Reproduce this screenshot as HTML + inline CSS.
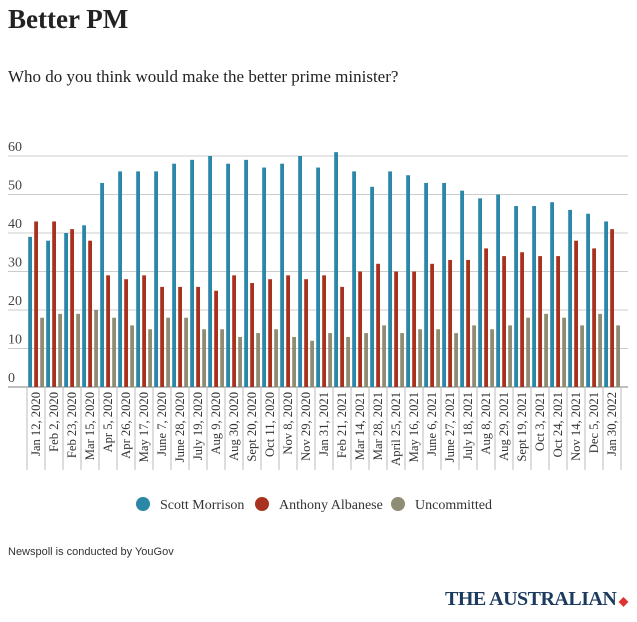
<!DOCTYPE html>
<html><head><meta charset="utf-8"><style>
body{margin:0;width:637px;height:622px;background:#fff;overflow:hidden;position:relative;font-family:"Liberation Serif",serif;}
.t{position:absolute;white-space:nowrap;}
</style></head><body>
<div class="t" style="left:8px;top:4px;font-size:27px;font-weight:bold;color:#222;">Better PM</div>
<div class="t" style="left:8px;top:67px;font-size:17px;color:#222;">Who do you think would make the better prime minister?</div>
<svg id="chart" width="637" height="530" style="position:absolute;left:0;top:0"></svg>
<div class="t" style="left:8px;top:546px;font-size:11px;font-family:'Liberation Sans',sans-serif;color:#333;">Newspoll is conducted by YouGov</div>
<div class="t" style="left:445px;top:588px;font-size:20px;font-weight:bold;color:#1c3a5e;letter-spacing:-0.5px;">THE AUSTRALIAN<span style="color:#d33;font-size:12px;"> ◆</span></div>
<script>
const categories=["Jan 12, 2020","Feb 2, 2020","Feb 23, 2020","Mar 15, 2020","Apr 5, 2020","Apr 26, 2020","May 17, 2020","June 7, 2020","June 28, 2020","July 19, 2020","Aug 9, 2020","Aug 30, 2020","Sept 20, 2020","Oct 11, 2020","Nov 8, 2020","Nov 29, 2020","Jan 31, 2021","Feb 21, 2021","Mar 14, 2021","Mar 28, 2021","April 25, 2021","May 16, 2021","June 6, 2021","June 27, 2021","July 18, 2021","Aug 8, 2021","Aug 29, 2021","Sept 19, 2021","Oct 3, 2021","Oct 24, 2021","Nov 14, 2021","Dec 5, 2021","Jan 30, 2022"];
const morrison=[39,38,40,42,53,56,56,56,58,59,60,58,59,57,58,60,57,61,56,52,56,55,53,53,51,49,50,47,47,48,46,45,43];
const albanese=[43,43,41,38,29,28,29,26,26,26,25,29,27,28,29,28,29,26,30,32,30,30,32,33,33,36,34,35,34,34,38,36,41];
const uncommitted=[18,19,19,20,18,16,15,18,18,15,15,13,14,15,13,12,14,13,14,16,14,15,15,14,16,15,16,18,19,18,16,19,16];
const yTicks=[0,10,20,30,40,50,60];
const seriesNames=["Scott Morrison","Anthony Albanese","Uncommitted"];
const colors=["#2a87a8","#a8321e","#8f8c74"];
const svg=document.getElementById('chart');const NS="http://www.w3.org/2000/svg";
const y0=387,yk=3.85,x0=27,gw=18;
const y=v=>y0-v*yk, x=i=>x0+i*gw;
function mk(t,a){const e=document.createElementNS(NS,t);for(const k in a)e.setAttribute(k,a[k]);svg.appendChild(e);return e;}
yTicks.forEach(v=>{
 const g=mk('line',{x1:8,x2:628,y1:y(v),y2:y(v),stroke:v?'#ccc':'#aaa','stroke-width':v?1:1.5});
 
 
 const t=mk('text',{x:8,y:y(v)-5,'font-size':14,fill:'#444','font-family':'Liberation Serif,serif'});t.textContent=v;
 
 
});
const all=[morrison,albanese,uncommitted];
categories.forEach((c,i)=>{
 const s=mk('line',{x1:x(i),x2:x(i),y1:y0,y2:470,stroke:'#bbb','stroke-width':1});
 
 
 all.forEach((arr,j)=>{
  const r=mk('rect',{x:x(i)+1.2+j*6,y:y(arr[i]),width:3.8,height:arr[i]*yk,fill:colors[j]});
  
  
 });
 const cx=x(i)+gw/2+4;
 const t=mk('text',{x:0,y:0,transform:`translate(${cx},392) rotate(-90)`,'text-anchor':'end','font-size':12.6,fill:'#333','font-family':'Liberation Serif,serif'});
 t.textContent=c;
 
 
});
mk('line',{x1:x(categories.length),x2:x(categories.length),y1:y0,y2:470,stroke:'#bbb'});
const lx=[143,262,398];
seriesNames.forEach((n,j)=>{
 const c=mk('circle',{cx:lx[j],cy:504,r:7,fill:colors[j]});
 
 
 const t=mk('text',{x:lx[j]+17,y:509,'font-size':14,fill:'#333','font-family':'Liberation Serif,serif'});t.textContent=n;
 
 
});
</script>
</body></html>
